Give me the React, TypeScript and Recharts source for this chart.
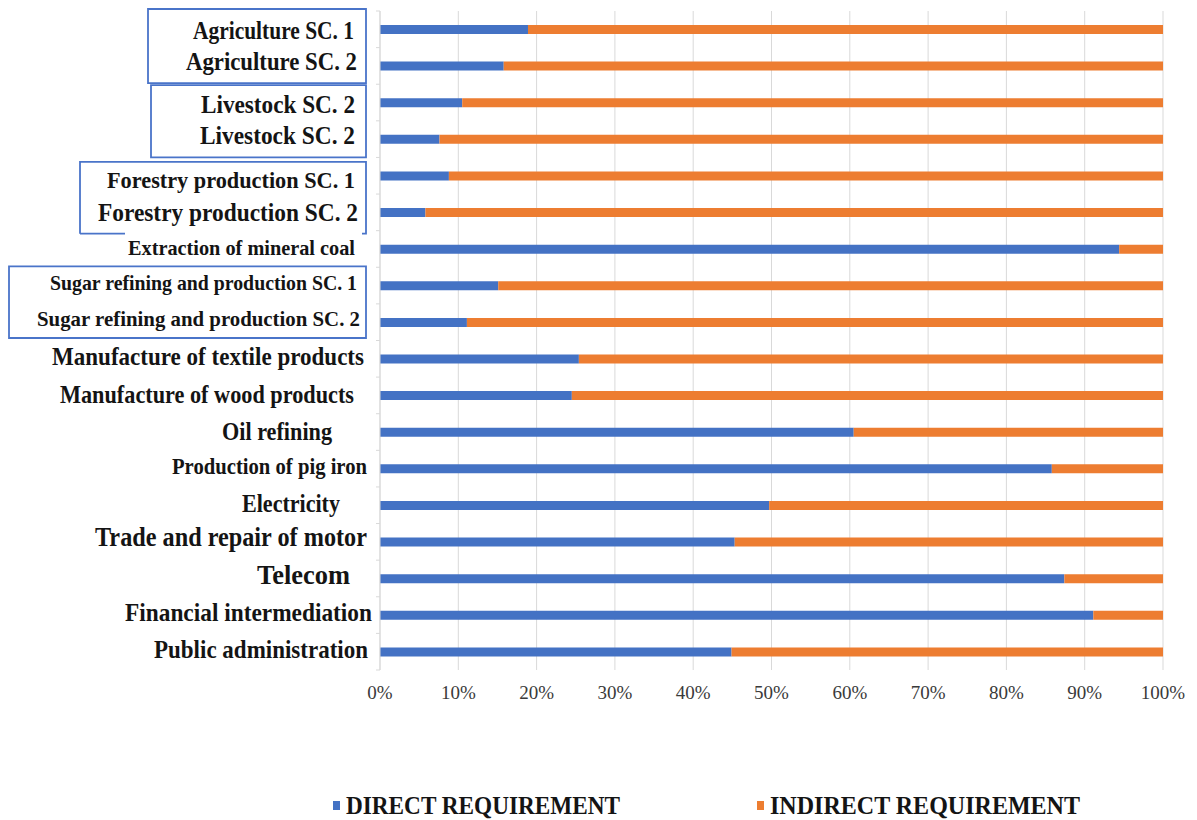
import { BarChart, Bar, XAxis, YAxis, CartesianGrid, Legend } from 'recharts';

const sectors = [
  'Agriculture SC. 1',
  'Agriculture SC. 2',
  'Livestock SC. 2',
  'Livestock SC. 2',
  'Forestry production SC. 1',
  'Forestry production SC. 2',
  'Extraction of mineral coal',
  'Sugar refining and production SC. 1',
  'Sugar refining and production SC. 2',
  'Manufacture of textile products',
  'Manufacture of wood products',
  'Oil refining',
  'Production of pig iron',
  'Electricity',
  'Trade and repair of motor',
  'Telecom',
  'Financial intermediation',
  'Public administration',
];

const directReq = [18.9, 15.8, 10.5, 7.6, 8.8, 5.8, 94.4, 15.1, 11.1, 25.4, 24.5, 60.5, 85.8, 49.7, 45.3, 87.4, 91.1, 44.9];
const indirectReq = [81.1, 84.2, 89.5, 92.4, 91.2, 94.2, 5.6, 84.9, 88.9, 74.6, 75.5, 39.5, 14.2, 50.3, 54.7, 12.6, 8.9, 55.1];

const xTicks = [0, 10, 20, 30, 40, 50, 60, 70, 80, 90, 100];

const BLUE = '#4472C4';
const ORANGE = '#ED7D31';
const GRID = '#d9d9d9';
const SERIF = "'Liberation Serif', 'Times New Roman', serif";

const W = 1197;
const H = 820;
const PLOT_TOP = 11;
const PLOT_BOTTOM = 670;
const AXIS_X = 380;
const BAND = (PLOT_BOTTOM - PLOT_TOP) / sectors.length;

const data = sectors.map((name, i) => ({
  name,
  direct: directReq[i],
  indirect: indirectReq[i],
}));

// per-row label look: font size, right edge, rendered width, vertical nudge
const labelLook = [
  { size: 25, right: 354, width: 161, dy: 2 },
  { size: 25, right: 357, width: 171, dy: -3.5 },
  { size: 25, right: 355, width: 154, dy: 2 },
  { size: 25, right: 355, width: 155, dy: -3.5 },
  { size: 24, right: 355, width: 248, dy: 4.5 },
  { size: 25, right: 358, width: 260, dy: 1 },
  { size: 21.5, right: 355, width: 227, dy: -1 },
  { size: 21, right: 357, width: 307, dy: -2 },
  { size: 22, right: 360, width: 323, dy: -3 },
  { size: 26, right: 364, width: 312, dy: -2.5 },
  { size: 26, right: 354, width: 294, dy: -1 },
  { size: 25, right: 332, width: 110, dy: 0 },
  { size: 23, right: 367, width: 195, dy: -1.5 },
  { size: 25, right: 340, width: 98, dy: -1 },
  { size: 26.5, right: 367, width: 272, dy: -4 },
  { size: 28, right: 350, width: 93, dy: -3 },
  { size: 26, right: 372, width: 247, dy: -2.5 },
  { size: 26, right: 368, width: 214, dy: -2 },
];

// blue frames around grouped scenario labels
const frames = [
  { from: 0, to: 1, left: 148, top: -2, bottom: -1 },
  { from: 2, to: 3, left: 151, top: 1, bottom: 0 },
  { from: 4, to: 5, left: 80, top: 4.5, bottom: 3, gap: [125, 362] },
  { from: 7, to: 8, left: 9, top: -1, bottom: -2.5 },
];
const FRAME_RIGHT = 366;

function Frame({ f, y }: { f: (typeof frames)[number]; y: number }) {
  const top = y - BAND / 2 + f.top;
  const bottom = y + (f.to - f.from) * BAND + BAND / 2 + f.bottom;
  let d = `M${f.left},${bottom} L${f.left},${top} L${FRAME_RIGHT},${top} L${FRAME_RIGHT},${bottom}`;
  if (f.gap) {
    d += ` L${f.gap[1]},${bottom} M${f.left},${bottom} L${f.gap[0]},${bottom}`;
  } else {
    d += ' Z';
  }
  return <path d={d} fill="none" stroke="#4a74c9" strokeWidth={1.8} />;
}

function SectorTick(props: any) {
  const { y, index, payload } = props;
  const look = labelLook[index];
  const frame = frames.find((f) => f.from === index);
  const last = index === sectors.length - 1;
  return (
    <g>
      <line x1={AXIS_X - 4} x2={AXIS_X} y1={y - BAND / 2} y2={y - BAND / 2} stroke={GRID} />
      {last && <line x1={AXIS_X - 4} x2={AXIS_X} y1={y + BAND / 2} y2={y + BAND / 2} stroke={GRID} />}
      {frame && <Frame f={frame} y={y} />}
      <text
        x={look.right}
        y={y + look.dy + look.size * 0.32}
        textAnchor="end"
        fontFamily={SERIF}
        fontWeight="bold"
        fontSize={look.size}
        textLength={look.width}
        lengthAdjust="spacingAndGlyphs"
        fill="#141414"
      >
        {payload.value}
      </text>
    </g>
  );
}

const legendItems = [
  { label: 'DIRECT REQUIREMENT', color: BLUE, left: 333, width: 274 },
  { label: 'INDIRECT REQUIREMENT', color: ORANGE, left: 757, width: 310 },
];

function LegendRow() {
  return (
    <svg width={W} height={30} style={{ display: 'block' }}>
      {legendItems.map((it) => (
        <g key={it.label}>
          <rect x={it.left} y={11} width={7} height={9} fill={it.color} />
          <text
            x={it.left + 13}
            y={24}
            fontFamily={SERIF}
            fontWeight="bold"
            fontSize={25}
            textLength={it.width}
            lengthAdjust="spacingAndGlyphs"
            fill="#141414"
          >
            {it.label}
          </text>
        </g>
      ))}
    </svg>
  );
}

export default function App() {
  return (
    <div style={{ position: 'absolute', left: 0, top: 0, width: W, height: H, background: '#fff' }}>
      <BarChart
        width={W}
        height={H}
        data={data}
        layout="vertical"
        margin={{ top: PLOT_TOP, right: W - 1163, bottom: H - PLOT_BOTTOM - 30, left: 0 }}
      >
        <CartesianGrid horizontal={false} stroke={GRID} />
        <XAxis
          type="number"
          domain={[0, 100]}
          ticks={xTicks}
          tickFormatter={(v) => `${v}%`}
          axisLine={false}
          tickLine={false}
          tickMargin={10}
          height={30}
          tick={{ fill: '#3a3a3a', fontSize: 19, fontFamily: SERIF }}
        />
        <YAxis
          type="category"
          dataKey="name"
          width={AXIS_X}
          interval={0}
          axisLine={{ stroke: GRID }}
          tickLine={false}
          tick={<SectorTick />}
        />
        <Legend
          layout="horizontal"
          verticalAlign="middle"
          align="center"
          wrapperStyle={{ top: 790, left: 0, width: W, height: 30 }}
          content={() => <LegendRow />}
        />
        <Bar dataKey="direct" name="DIRECT REQUIREMENT" stackId="req" fill={BLUE} barSize={9} isAnimationActive={false} />
        <Bar dataKey="indirect" name="INDIRECT REQUIREMENT" stackId="req" fill={ORANGE} barSize={9} isAnimationActive={false} />
      </BarChart>
    </div>
  );
}
